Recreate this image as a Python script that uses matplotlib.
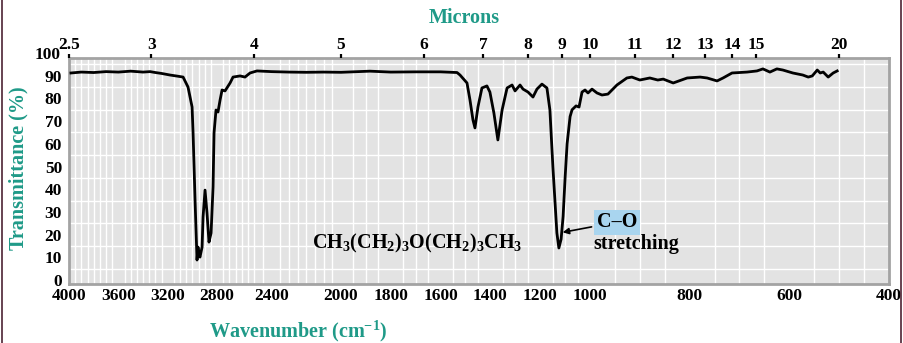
import numpy as np
import matplotlib
matplotlib.use("Agg")
import matplotlib.pyplot as plt

# IR-Spektrum von Dibutylether
wavenumber = [3984, 3900, 3800, 3700, 3600, 3500, 3400, 3343, 3300, 3250,
              3181, 3120, 3075, 3035, 3002, 2994, 2978, 2962, 2954, 2946,
              2938, 2921, 2913, 2897, 2881, 2865, 2848, 2832, 2824, 2808,
              2792, 2775, 2759, 2735, 2694, 2670, 2613, 2573, 2532, 2483,
              2400, 2300, 2200, 2100, 2000, 1884, 1800, 1700, 1600, 1534,
              1522, 1494, 1482, 1470, 1462, 1450, 1434, 1414, 1402, 1386,
              1370, 1353, 1333, 1313, 1301, 1281, 1269, 1249, 1229, 1213,
              1193, 1173, 1161, 1149, 1133, 1125, 1116, 1108, 1100, 1092,
              1080, 1072, 1056, 1044, 1032, 1020, 1008, 996, 986, 976,
              964, 946, 926, 916, 900, 880, 864, 853, 833, 805,
              779, 765, 745, 733, 715, 685, 665, 653, 639, 625,
              613, 593, 573, 562, 554, 544, 538, 532, 522, 512, 504]
transmittance = [91.2, 91.6, 91.4, 91.8, 91.6, 92.0, 91.6, 91.8, 91.4, 91.0,
                 90.3, 89.8, 89.4, 85.0, 76.2, 64.8, 35.2, 8.8, 14.5, 11.0,
                 10.1, 14.5, 27.8, 39.6, 29.5, 16.7, 20.7, 41.0, 64.8, 74.9,
                 74.0, 79.3, 83.7, 83.3, 86.8, 89.4, 89.9, 89.4, 91.2, 92.1,
                 91.8, 91.6, 91.5, 91.6, 91.5, 92.0, 91.6, 91.7, 91.7, 91.4,
                 90.3, 86.8, 79.3, 70.5, 67.0, 76.2, 84.6, 85.5, 82.8, 73.6,
                 61.7, 74.9, 84.6, 85.9, 83.3, 85.9, 84.1, 82.8, 80.6, 84.1,
                 86.3, 84.6, 74.9, 49.8, 20.7, 14.1, 18.0, 28.0, 45.0, 60.0,
                 72.0, 75.0, 76.7, 76.2, 82.8, 83.7, 82.4, 84.1, 82.4, 81.5,
                 81.9, 85.9, 89.0, 89.4, 88.1, 89.0, 88.1, 88.5, 86.8, 89.0,
                 89.4, 89.0, 87.7, 89.0, 91.2, 91.6, 92.1, 93.0, 91.6, 93.0,
                 92.5, 91.2, 90.3, 89.4, 89.9, 92.5, 91.2, 91.6, 89.4, 91.2, 92.1]

wn_ticks = [4000, 3600, 3200, 2800, 2400, 2000, 1800, 1600, 1400, 1200, 1000, 800, 600, 400]
micron_ticks = [2.5, 3, 4, 5, 6, 7, 8, 9, 10, 11, 12, 13, 14, 15, 20]
micron_labels = ["2.5", "3", "4", "5", "6", "7", "8", "9", "10", "11", "12", "13", "14", "15", "20"]
t_ticks = [0, 10, 20, 30, 40, 50, 60, 70, 80, 90]

teal = "#1f9a88"
fs_tick = 12.5
fs_label = 14.5

plt.rcParams["font.family"] = ["Liberation Serif", "DejaVu Serif"]
plt.rcParams["font.weight"] = "bold"
plt.rcParams["mathtext.fontset"] = "custom"
plt.rcParams["mathtext.rm"] = "Liberation Serif:bold"
plt.rcParams["mathtext.it"] = "Liberation Serif:bold"
plt.rcParams["mathtext.bf"] = "Liberation Serif:bold"

# Achse mit Knick: 4000-2500, 2500-2000, 2000-1000, 1000-400 unterschiedlich gestaucht
knick_wn = [400, 1000, 2000, 2500, 4000]
knick_pos = [0, 299, 548, 635, 820]

def fwd(w):
    return np.interp(w, knick_wn, knick_pos)

def inv(p):
    return np.interp(p, knick_pos, knick_wn)

fig = plt.figure(figsize=(9.04, 3.43), dpi=100)
ax = fig.add_axes([69 / 904, 1 - 284 / 343, 820 / 904, 226 / 343])
ax.set_xscale("function", functions=(fwd, inv))
ax.set_xlim(4000, 400)
ax.set_ylim(-1.76, 97.8)
ax.set_facecolor("#e3e3e3")

ax.plot(wavenumber, transmittance, color="black", lw=2.0, solid_joinstyle="round", zorder=3)

# Gitter alle 50 cm-1 bzw. 5 %
ax.set_xticks(wn_ticks)
ax.set_xticklabels([str(t) for t in wn_ticks], fontsize=fs_tick, fontweight="bold")
ax.set_xticks(np.arange(450, 4000, 50), minor=True)
ax.set_yticks(t_ticks)
ax.set_yticklabels([str(t) for t in t_ticks], fontsize=fs_tick, fontweight="bold")
ax.set_yticks(np.arange(0, 100, 5), minor=True)
ax.grid(False)
ax.grid(which="minor", color="white", lw=1.0)
ax.set_axisbelow(True)
ax.tick_params(which="both", length=0)
ax.tick_params(axis="x", pad=3)
ax.tick_params(axis="y", pad=5)
for s in ax.spines.values():
    s.set_color("#a3a3a3")
    s.set_linewidth(2)

ax.annotate("100", xy=(0, 100), xycoords=("axes fraction", "data"), xytext=(-6, -1.5),
            textcoords="offset points", ha="right", va="center", fontsize=fs_tick,
            fontweight="bold", annotation_clip=False)

# obere Achse in Mikrometer
ax2 = ax.twiny()
ax2.set_xscale("function", functions=(fwd, inv))
ax2.set_xlim(4000, 400)
ax2.set_xticks([10000 / m for m in micron_ticks])
ax2.set_xticklabels(micron_labels, fontsize=fs_tick, fontweight="bold")
ax2.tick_params(axis="x", direction="out", length=3, width=1.6, pad=0.5, color="black")
for s in ax2.spines.values():
    s.set_visible(False)

ax.text(1695, 15.9, r"$\mathrm{CH_3(CH_2)_3O(CH_2)_3CH_3}$", fontsize=fs_label,
        ha="center", va="center", zorder=4)
ax.annotate("C\u2013O", xy=(1110, 21), xytext=(946, 25.5), fontsize=fs_label,
            fontweight="bold", ha="center", va="center", zorder=4,
            bbox=dict(boxstyle="square,pad=0.12", fc="#a9d5ef", ec="none"),
            arrowprops=dict(arrowstyle="-|>", color="black", lw=1.2,
                            mutation_scale=9, shrinkA=2, shrinkB=0))
ax.text(908, 16, "stretching", fontsize=fs_label, fontweight="bold",
        ha="center", va="center", zorder=4)

fig.text(464 / 904, 1 - 18 / 343, "Microns", color=teal, fontsize=fs_label,
         fontweight="bold", ha="center", va="center")
fig.text(298 / 904, 1 - 331 / 343, r"Wavenumber (cm$^{-1}$)", color=teal,
         fontsize=fs_label, fontweight="bold", ha="center", va="center")
fig.text(18 / 904, 1 - 168 / 343, "Transmittance (%)", color=teal, fontsize=fs_label,
         fontweight="bold", ha="center", va="center", rotation=90)

# dunkler Bildrand links und rechts
fig.add_artist(plt.Line2D([2.5 / 904, 2.5 / 904], [0, 1], color="#4d2233", lw=1.2))
fig.add_artist(plt.Line2D([901.5 / 904, 901.5 / 904], [0, 1], color="#4d2233", lw=1.2))

fig.savefig("out.png", dpi=100)
